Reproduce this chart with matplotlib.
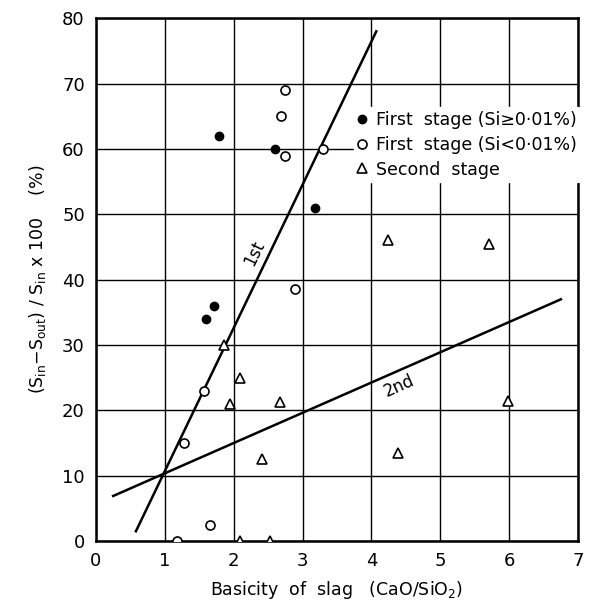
import numpy as np
import matplotlib.pyplot as plt

plt.rcParams['font.family'] = ['DejaVu Sans']
plt.rcParams['mathtext.default'] = 'regular'

# first stage, Si >= 0.01 %
s1_hi_x = [1.60, 1.72, 1.78, 2.60, 3.18]
s1_hi_y = [34.0, 36.0, 62.0, 60.0, 51.0]

# first stage, Si < 0.01 %
s1_lo_x = [1.18, 1.65, 1.28, 1.57, 2.89, 2.74, 2.68, 2.74, 3.30]
s1_lo_y = [0.0, 2.5, 15.0, 23.0, 38.5, 69.0, 65.0, 59.0, 60.0]

# second stage
s2_x = [2.09, 2.52, 2.41, 1.95, 2.67, 2.09, 1.86, 4.24, 5.70, 5.98, 4.39]
s2_y = [0.0, 0.0, 12.5, 21.0, 21.3, 25.0, 30.0, 46.0, 45.5, 21.5, 13.5]

# regression lines (end points)
line1_x = [0.58, 4.07]
line1_y = [1.5, 78.0]
line2_x = [0.25, 6.75]
line2_y = [6.9, 37.0]

xticks = [0, 1, 2, 3, 4, 5, 6, 7]
yticks = [0, 10, 20, 30, 40, 50, 60, 70, 80]

fig = plt.figure(figsize=(5.96, 6.10), dpi=100)
ax = fig.add_axes([0.161, 0.113, 0.809, 0.857])

ax.set_xlim(0, 7)
ax.set_ylim(0, 80)
ax.set_xticks(xticks)
ax.set_yticks(yticks)
ax.tick_params(length=0, labelsize=13, pad=8)
ax.grid(True, color='black', linewidth=1.0)
ax.set_axisbelow(True)
for sp in ax.spines.values():
    sp.set_linewidth(1.8)

ax.plot(line1_x, line1_y, color='black', lw=1.8, zorder=3)
ax.plot(line2_x, line2_y, color='black', lw=1.8, zorder=3)

ax.plot(s1_hi_x, s1_hi_y, 'o', ms=6, mfc='black', mec='black', ls='none',
        label='First  stage (Si≥0·01%)', zorder=4)
ax.plot(s1_lo_x, s1_lo_y, 'o', ms=6.5, mfc='white', mec='black', mew=1.2, ls='none',
        label='First  stage (Si<0·01%)', zorder=4)
ax.plot(s2_x, s2_y, '^', ms=6.5, mfc='white', mec='black', mew=1.2, ls='none',
        label='Second  stage', zorder=4)

ax.text(2.30, 44, '1st', rotation=64, fontsize=12, ha='center', va='center')
ax.text(4.40, 23.8, '2nd', rotation=24, fontsize=12, ha='center', va='center')

leg = ax.legend(loc='upper right', bbox_to_anchor=(1.005, 0.83), frameon=True,
                fontsize=12.5, handlelength=0.6, handletextpad=0.5,
                borderpad=0.2, labelspacing=0.4, borderaxespad=0.0)
leg.get_frame().set_facecolor('white')
leg.get_frame().set_edgecolor('white')
leg.get_frame().set_alpha(1)

ax.set_xlabel('Basicity  of  slag   (CaO/SiO$_2$)', fontsize=12.5, labelpad=6)
ax.set_ylabel('(S$_{in}$$-$S$_{out}$) / S$_{in}$ x 100    (%)', fontsize=12.5, labelpad=10)

fig.savefig('out.png', dpi=100)
